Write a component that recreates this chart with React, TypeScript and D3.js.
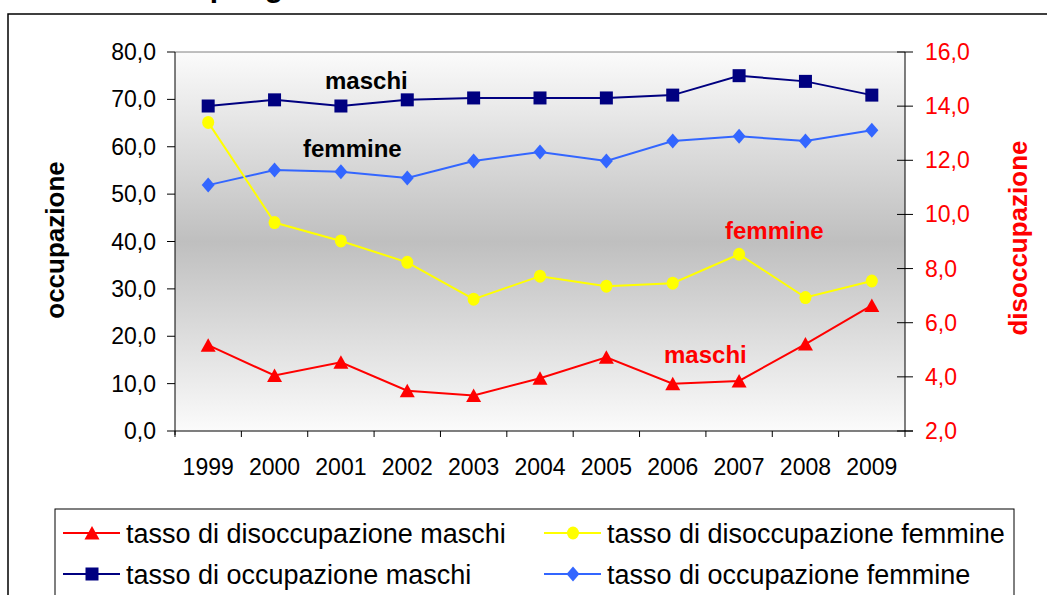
import React from 'react';
import * as d3 from 'd3';

// years on the x axis
const years = ['1999', '2000', '2001', '2002', '2003', '2004', '2005', '2006', '2007', '2008', '2009'];

// occupazione (left axis, %)
const occMaschi = [68.6, 69.9, 68.6, 69.9, 70.3, 70.3, 70.3, 70.9, 75.0, 73.8, 70.9];
const occFemmine = [51.9, 55.1, 54.7, 53.4, 57.0, 58.9, 57.0, 61.2, 62.2, 61.2, 63.5];

// disoccupazione (right axis, %)
const disMaschi = [5.17, 4.05, 4.54, 3.49, 3.31, 3.95, 4.72, 3.75, 3.85, 5.21, 6.64];
const disFemmine = [13.4, 9.7, 9.02, 8.23, 6.87, 7.72, 7.35, 7.46, 8.53, 6.93, 7.54];

const leftTicks = [0, 10, 20, 30, 40, 50, 60, 70, 80];
const rightTicks = [2, 4, 6, 8, 10, 12, 14, 16];

const legendLabels = [
  'tasso di disoccupazione maschi',
  'tasso di disoccupazione femmine',
  'tasso di occupazione maschi',
  'tasso di occupazione femmine',
];

const FONT = '"Liberation Sans", Arial, sans-serif';
const RED = '#FF0000';
const YELLOW = '#FFFF00';
const NAVY = '#000080';
const BLUE = '#3366FF';

const fmt = (v: number) => d3.format('.1f')(v).replace('.', ',');

const plot = { left: 175, right: 905, top: 52, bottom: 431 };

const x = d3.scaleBand<string>().domain(years).range([plot.left, plot.right]).padding(0);
const yL = d3.scaleLinear().domain([0, 80]).range([plot.bottom, plot.top]);
const yR = d3.scaleLinear().domain([2, 16]).range([plot.bottom, plot.top]);
const cx = (y: string) => (x(y) as number) + x.bandwidth() / 2;

type Shape = 'triangle' | 'circle' | 'square' | 'diamond';

const Marker = ({ shape, px, py, color }: { shape: Shape; px: number; py: number; color: string }) => {
  if (shape === 'circle') return <ellipse cx={px} cy={py} rx={6} ry={6.5} fill={color} />;
  if (shape === 'square') return <rect x={px - 6.5} y={py - 6.5} width={13} height={13} fill={color} />;
  if (shape === 'diamond')
    return <path d={`M${px},${py - 7.5}L${px + 6.5},${py}L${px},${py + 7.5}L${px - 6.5},${py}Z`} fill={color} />;
  return <path d={`M${px},${py - 7}L${px + 7.5},${py + 6.5}L${px - 7.5},${py + 6.5}Z`} fill={color} />;
};

const Series = ({ values, scale, color, shape }: { values: number[]; scale: d3.ScaleLinear<number, number>; color: string; shape: Shape }) => {
  const line = d3
    .line<number>()
    .x((_, i) => cx(years[i]))
    .y(d => scale(d));
  return (
    <g>
      <path d={line(values) as string} fill="none" stroke={color} strokeWidth={2} />
      {values.map((v, i) => (
        <Marker key={i} shape={shape} px={cx(years[i])} py={scale(v)} color={color} />
      ))}
    </g>
  );
};

export default function App() {
  const legend = [
    { label: legendLabels[0], color: RED, shape: 'triangle' as Shape, lx: 63, ly: 533 },
    { label: legendLabels[1], color: YELLOW, shape: 'circle' as Shape, lx: 544, ly: 533 },
    { label: legendLabels[2], color: NAVY, shape: 'square' as Shape, lx: 63, ly: 574 },
    { label: legendLabels[3], color: BLUE, shape: 'diamond' as Shape, lx: 544, ly: 574 },
  ];

  return (
    <svg
      width={1047}
      height={595}
      style={{ position: 'absolute', left: 0, top: 0, background: '#fff' }}
      fontFamily={FONT}
    >
      <defs>
        <linearGradient id="bg" x1="0" y1="0" x2="0" y2="1">
          <stop offset="0" stopColor="#fbfbfb" />
          <stop offset="0.5" stopColor="#bfbfbf" />
          <stop offset="1" stopColor="#fbfbfb" />
        </linearGradient>
      </defs>

      {/* title, mostly cut off at the top */}
      <text x={127} y={-3} fontSize={30} fontWeight="bold">Tassi per genere</text>

      {/* outer frame */}
      <rect x={8} y={14} width={1100} height={700} fill="none" stroke="#000" strokeWidth={1.5} />

      {/* plot area */}
      <rect
        x={plot.left}
        y={plot.top}
        width={plot.right - plot.left}
        height={plot.bottom - plot.top}
        fill="url(#bg)"
      />
      <line x1={plot.left} x2={plot.right} y1={plot.top} y2={plot.top} stroke="#808080" strokeWidth={1} />

      {/* left axis */}
      <line x1={plot.left} x2={plot.left} y1={plot.top} y2={plot.bottom + 4} stroke="#000" strokeWidth={1} />
      {leftTicks.map(t => (
        <g key={t}>
          <line x1={plot.left - 8} x2={plot.left} y1={yL(t)} y2={yL(t)} stroke="#000" />
          <text x={156} y={yL(t)} dy="0.35em" textAnchor="end" fontSize={23} fill="#000">
            {fmt(t)}
          </text>
        </g>
      ))}

      {/* right axis */}
      <line x1={plot.right} x2={plot.right} y1={plot.top} y2={plot.bottom + 6} stroke="#000" strokeWidth={1} />
      {rightTicks.map(t => (
        <g key={t}>
          <line x1={plot.right - 8} x2={plot.right + 8} y1={yR(t)} y2={yR(t)} stroke="#000" />
          <text x={925} y={yR(t)} dy="0.35em" textAnchor="start" fontSize={23} fill={RED}>
            {fmt(t)}
          </text>
        </g>
      ))}

      {/* bottom axis */}
      <line x1={plot.left} x2={plot.right + 8} y1={plot.bottom} y2={plot.bottom} stroke="#000" strokeWidth={1} />
      {years.map(yr => (
        <g key={yr}>
          <line x1={x(yr) as number} x2={x(yr) as number} y1={plot.bottom} y2={plot.bottom + 6} stroke="#000" />
          <text x={cx(yr)} y={467} dy="0.35em" textAnchor="middle" fontSize={23} fill="#000">
            {yr}
          </text>
        </g>
      ))}

      {/* axis titles */}
      <text
        transform="translate(55,240) rotate(-90)"
        textAnchor="middle"
        dominantBaseline="central"
        fontSize={26}
        fontWeight="bold"
        fill="#000"
      >
        occupazione
      </text>
      <text
        transform="translate(1018,238) rotate(-90)"
        textAnchor="middle"
        dominantBaseline="central"
        fontSize={26}
        fontWeight="bold"
        fill={RED}
      >
        disoccupazione
      </text>

      {/* series */}
      <Series values={occMaschi} scale={yL} color={NAVY} shape="square" />
      <Series values={occFemmine} scale={yL} color={BLUE} shape="diamond" />
      <Series values={disFemmine} scale={yR} color={YELLOW} shape="circle" />
      <Series values={disMaschi} scale={yR} color={RED} shape="triangle" />

      {/* series annotations */}
      <text x={325} y={89} fontSize={24} fontWeight="bold" fill="#000">maschi</text>
      <text x={303} y={157} fontSize={24} fontWeight="bold" fill="#000">femmine</text>
      <text x={725} y={239} fontSize={24} fontWeight="bold" fill={RED}>femmine</text>
      <text x={664} y={363} fontSize={24} fontWeight="bold" fill={RED}>maschi</text>

      {/* legend */}
      <rect x={55} y={509} width={959} height={120} fill="#fff" stroke="#000" strokeWidth={1} />
      {legend.map(l => (
        <g key={l.label}>
          <line x1={l.lx} x2={l.lx + 57} y1={l.ly} y2={l.ly} stroke={l.color} strokeWidth={2} />
          <Marker shape={l.shape} px={l.lx + 29} py={l.ly} color={l.color} />
          <text x={l.lx + 63} y={l.ly + 10} fontSize={27} fill="#000">
            {l.label}
          </text>
        </g>
      ))}
    </svg>
  );
}
